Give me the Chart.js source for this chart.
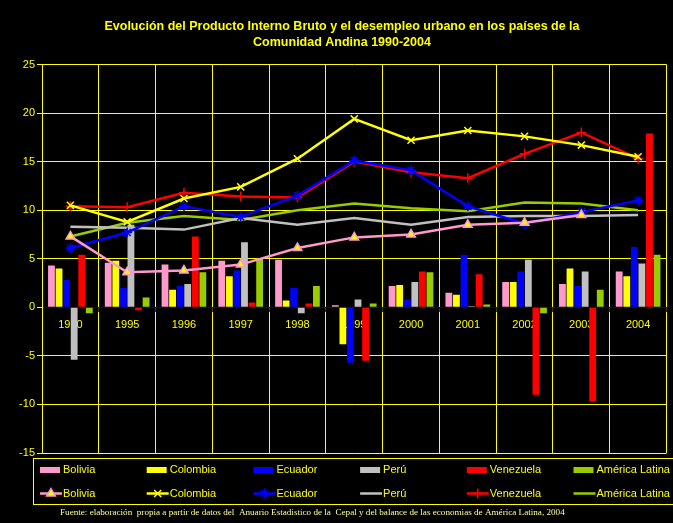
<!DOCTYPE html>
<html>
<head>
<meta charset="utf-8">
<script src="https://cdn.jsdelivr.net/npm/chart.js@4/dist/chart.umd.min.js"></script>
<style>
  body { margin: 0; background: #000; }
  #myChart { display: block; background: #000; }
</style>
</head>
<body>
<canvas id="myChart" width="673" height="523"></canvas>
<script>
// datos
const years = ['1990', '1995', '1996', '1997', '1998', '1999', '2000', '2001', '2002', '2003', '2004'];
const countries = ['Bolivia', 'Colombia', 'Ecuador', 'Perú', 'Venezuela', 'América Latina'];

// PIB (barras)
const pibBolivia   = [4.3, 4.6, 4.4, 4.8, 4.9, 0.2, 2.2, 1.5, 2.6, 2.4, 3.7];
const pibColombia  = [4.0, 4.8, 1.8, 3.2, 0.7, -3.8, 2.3, 1.3, 2.6, 4.0, 3.2];
const pibEcuador   = [2.8, 2.0, 2.2, 3.8, 2.0, -5.7, 0.8, 5.4, 3.7, 2.2, 6.2];
const pibPeru      = [-5.4, 8.5, 2.4, 6.7, -0.6, 0.8, 2.6, 0.1, 4.9, 3.7, 4.5];
const pibVenezuela = [5.4, -0.3, 7.3, 0.5, 0.4, -5.5, 3.7, 3.4, -9.0, -9.7, 17.9];
const pibAmerica   = [-0.6, 1.0, 3.6, 5.0, 2.2, 0.4, 3.6, 0.3, -0.6, 1.8, 5.4];

// desempleo urbano (lineas)
const desBolivia   = [7.3, 3.6, 3.8, 4.4, 6.1, 7.2, 7.5, 8.5, 8.7, 9.5, null];
const desColombia  = [10.5, 8.8, 11.2, 12.4, 15.3, 19.4, 17.2, 18.2, 17.6, 16.7, 15.5];
const desEcuador   = [6.1, 7.7, 10.4, 9.3, 11.5, 15.1, 14.1, 10.4, 8.6, 9.8, 11.0];
const desPeru      = [8.3, 8.2, 8.0, 9.2, 8.5, 9.2, 8.5, 9.3, 9.4, 9.4, 9.5];
const desVenezuela = [10.4, 10.3, 11.8, 11.4, 11.3, 15.0, 13.9, 13.3, 15.8, 18.0, 15.3];
const desAmerica   = [7.3, 8.7, 9.4, 9.0, 10.0, 10.7, 10.2, 9.9, 10.8, 10.7, 10.0];

const yTicksMin = -15;
const yTicksMax = 25;
const yStep = 5;

const barColors = ['#FF99CC', '#FFFF00', '#0000FF', '#C0C0C0', '#FF0000', '#99CC00'];
const lineColors = ['#FF99CC', '#FFFF00', '#0000FF', '#C0C0C0', '#FF0000', '#99CC00'];

const pibData = [pibBolivia, pibColombia, pibEcuador, pibPeru, pibVenezuela, pibAmerica];
const desData = [desBolivia, desColombia, desEcuador, desPeru, desVenezuela, desAmerica];

// marcadores de las lineas
const markers = [
    { style: 'triangle', fill: '#FFFF00', border: '#FF99CC', radius: 5 },
    { style: 'crossRot', fill: '#FFFF00', border: '#FFFF00', radius: 5 },
    { style: 'star', fill: '#0000FF', border: '#0000FF', radius: 5 },
    null,
    { style: 'cross', fill: '#FF0000', border: '#FF0000', radius: 5 },
    null
];

const title = ['Evolución del Producto Interno Bruto y el desempleo urbano en los países de la',
    'Comunidad Andina 1990-2004'];
const fuente = 'Fuente: elaboración  propia a partir de datos del  Anuario Estadistico de la  Cepal y del balance de las economias de América Latina, 2004';

const yellow = '#FFFF00';
Chart.defaults.font.family = 'Arial, "Liberation Sans", sans-serif';

const datasets = [];
pibData.forEach((d, i) => {
    datasets.push({
        type: 'bar',
        label: countries[i],
        data: d,
        backgroundColor: barColors[i],
        borderWidth: 0,
        barPercentage: 0.9,
        categoryPercentage: 0.8,
        order: 2
    });
});
desData.forEach((d, i) => {
    const m = markers[i];
    datasets.push({
        type: 'line',
        label: countries[i],
        data: d,
        borderColor: lineColors[i],
        borderWidth: 2.5,
        tension: 0,
        fill: false,
        pointStyle: m ? m.style : false,
        pointRadius: m ? m.radius : 0,
        pointBackgroundColor: m ? m.fill : lineColors[i],
        pointBorderColor: m ? m.border : lineColors[i],
        pointBorderWidth: 1.5,
        order: 1
    });
});

// leyenda en caja + fuente
const cajaLeyenda = {
    id: 'cajaLeyenda',
    afterDraw(chart) {
        const ctx = chart.ctx;
        ctx.save();
        ctx.strokeStyle = yellow;
        ctx.lineWidth = 1;
        ctx.strokeRect(33.5, 458.5, 660, 46);

        ctx.font = '11px Arial, "Liberation Sans", sans-serif';
        ctx.textBaseline = 'middle';
        ctx.textAlign = 'left';
        countries.forEach((name, i) => {
            const x = 40 + i * 106.7;
            // fila 1: barras
            ctx.fillStyle = barColors[i];
            ctx.fillRect(x, 467, 20, 6);
            ctx.fillStyle = yellow;
            ctx.fillText(name, x + 23, 470);

            // fila 2: lineas
            ctx.strokeStyle = lineColors[i];
            ctx.lineWidth = 2.5;
            ctx.beginPath();
            ctx.moveTo(x, 493.5);
            ctx.lineTo(x + 22, 493.5);
            ctx.stroke();
            const m = markers[i];
            if (m && Chart.helpers && Chart.helpers.drawPoint) {
                ctx.fillStyle = m.fill;
                ctx.strokeStyle = m.border;
                ctx.lineWidth = 1.5;
                Chart.helpers.drawPoint(ctx, { pointStyle: m.style, radius: m.radius, borderWidth: 1.5, rotation: 0 }, x + 11, 493.5);
            }
            ctx.fillStyle = yellow;
            ctx.fillText(name, x + 23, 493.5);
        });

        ctx.font = '9.15px "Times New Roman", "Liberation Serif", serif';
        ctx.fillStyle = '#FFFF99';
        ctx.fillText(fuente, 60, 512.5);
        ctx.restore();
    }
};

const config = {
    type: 'bar',
    data: {
        labels: years,
        datasets: datasets
    },
    options: {
        responsive: false,
        animation: false,
        layout: {
            padding: { left: 17, right: 6, top: 0, bottom: 70 }
        },
        plugins: {
            legend: { display: false },
            tooltip: { enabled: false },
            title: {
                display: true,
                text: title,
                color: yellow,
                font: { size: 12.5, weight: 'bold', lineHeight: 1.28 },
                padding: { top: 19, bottom: 13.5 }
            }
        },
        scales: {
            x: {
                position: { y: 0 },
                offset: true,
                grid: {
                    offset: true,
                    color: yellow,
                    lineWidth: 1,
                    tickLength: 4,
                    tickColor: '#333'
                },
                border: { color: '#111', width: 1 },
                ticks: {
                    color: yellow,
                    font: { size: 11 },
                    padding: 7,
                    maxRotation: 0,
                    autoSkip: false
                }
            },
            y: {
                min: yTicksMin,
                max: yTicksMax,
                afterFit: (scale) => { scale.width = 25; },
                grid: {
                    color: (c) => c.tick && c.tick.value === 0 ? '#000' : yellow,
                    lineWidth: 1,
                    tickLength: 5,
                    tickColor: yellow
                },
                border: { color: yellow, width: 1 },
                ticks: {
                    stepSize: yStep,
                    color: yellow,
                    font: { size: 11 },
                    padding: 2
                }
            }
        }
    },
    plugins: [cajaLeyenda]
};

const myChart = new Chart(
    document.getElementById('myChart'),
    config
);
</script>
</body>
</html>
